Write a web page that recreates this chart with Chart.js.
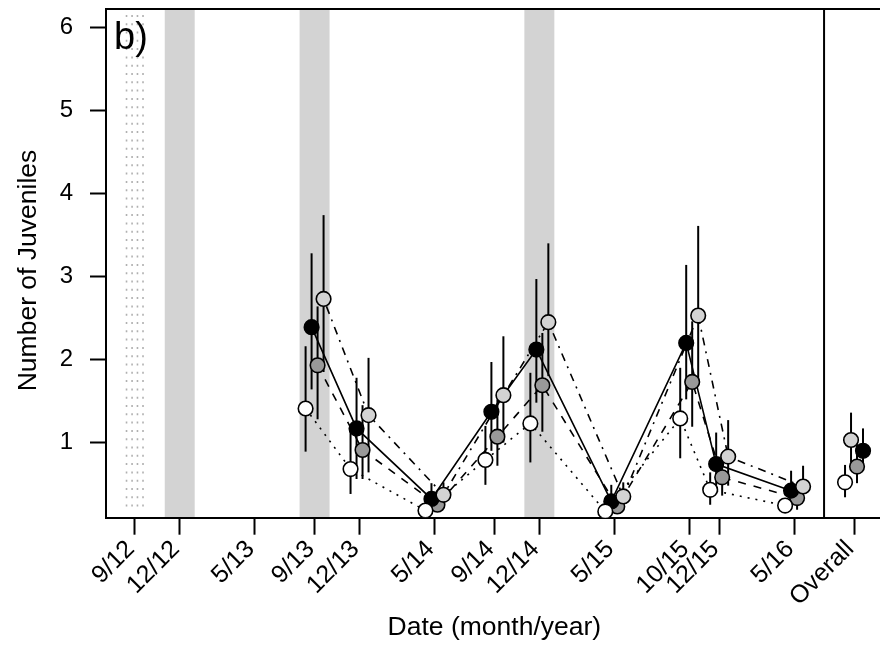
<!DOCTYPE html>
<html>
<head>
<meta charset="utf-8">
<script src="https://cdn.jsdelivr.net/npm/chart.js@4.4.1/dist/chart.umd.min.js"></script>
<style>
  body { margin: 0; background: #fff; overflow: hidden; }
  canvas { display: block; }
</style>
</head>
<body>
<canvas id="juv" width="900" height="646"></canvas>
<script>
// months counted from 9/2012
var dateMonths = [12, 15, 20, 24, 27, 32, 37, 39, 44];
var overallMonth = 48;

var tickMonths = [0, 3, 8, 12, 15, 20, 24, 27, 32, 37, 39, 44, 48];
var tickLabels = ['9/12', '12/12', '5/13', '9/13', '12/13', '5/14', '9/14', '12/14',
                  '5/15', '10/15', '12/15', '5/16', 'Overall'];
var yTicks = [1, 2, 3, 4, 5, 6];

var shadedMonths = [3, 12, 27];
var dividerMonth = 46;

// last value of each array is the overall estimate
var whiteMean = [1.41, 0.68, 0.18, 0.79, 1.23, 0.17, 1.29, 0.43, 0.24, 0.52];
var whiteLo   = [0.89, 0.38, 0.12, 0.49, 0.76, 0.12, 0.81, 0.25, 0.17, 0.34];
var whiteHi   = [2.16, 1.16, 0.27, 1.20, 1.84, 0.24, 1.90, 0.64, 0.33, 0.73];

var blackMean = [2.39, 1.17, 0.32, 1.37, 2.12, 0.29, 2.20, 0.74, 0.42, 0.90];
var blackLo   = [1.64, 0.56, 0.20, 0.90, 1.48, 0.18, 1.52, 0.48, 0.27, 0.68];
var blackHi   = [3.28, 1.78, 0.51, 1.97, 2.97, 0.49, 3.14, 1.12, 0.66, 1.17];

var darkMean  = [1.93, 0.91, 0.25, 1.07, 1.69, 0.23, 1.73, 0.58, 0.33, 0.71];
var darkLo    = [1.28, 0.56, 0.17, 0.72, 1.13, 0.15, 1.19, 0.36, 0.19, 0.51];
var darkHi    = [2.64, 1.45, 0.36, 1.52, 2.32, 0.33, 2.46, 0.88, 0.50, 0.98];

var lightMean = [2.73, 1.33, 0.37, 1.57, 2.45, 0.35, 2.53, 0.83, 0.47, 1.03];
var lightLo   = [1.85, 0.64, 0.26, 1.00, 1.80, 0.24, 1.76, 0.48, 0.32, 0.76];
var lightHi   = [3.74, 2.02, 0.52, 2.28, 3.40, 0.52, 3.61, 1.27, 0.72, 1.36];

var FONT = "'Liberation Sans', Arial, Helvetica, sans-serif";

// off = side shift at the dates, offAll = shift at "Overall", z = point draw order
var series = [
  {mean: whiteMean, lo: whiteLo, hi: whiteHi, fill: '#ffffff', dash: [2, 6], off: -0.6, offAll: -0.6, z: 1},
  {mean: blackMean, lo: blackLo, hi: blackHi, fill: '#000000', dash: [], off: -0.2, offAll: 0.6, z: 3},
  {mean: darkMean, lo: darkLo, hi: darkHi, fill: '#999999', dash: [8, 8], off: 0.2, offAll: 0.2, z: 4},
  {mean: lightMean, lo: lightLo, hi: lightHi, fill: '#d3d3d3', dash: [2, 6, 8, 6], off: 0.6, offAll: -0.2, z: 2}
];

function xOf(s, i) {
  return i < dateMonths.length ? dateMonths[i] + s.off : overallMonth + s.offAll;
}

var datasets = [];
series.forEach(function (s) {
  datasets.push({
    data: dateMonths.map(function (m, i) { return {x: xOf(s, i), y: s.mean[i]}; }),
    showLine: true, pointRadius: 0, borderColor: '#000', borderWidth: 1.6,
    borderDash: s.dash, fill: false, order: 10
  });
});
series.forEach(function (s) {
  datasets.push({
    data: s.mean.map(function (v, i) { return {x: xOf(s, i), y: v}; }),
    showLine: false, pointRadius: 7.3, pointBorderWidth: 1.6,
    pointBackgroundColor: s.fill, pointBorderColor: '#000', order: s.z
  });
});

var decor = {
  id: 'decor',
  beforeDraw: function (chart) {
    var ctx = chart.ctx, a = chart.chartArea, xs = chart.scales.x;
    ctx.save();
    ctx.fillStyle = '#d3d3d3';
    shadedMonths.forEach(function (m) {
      var x0 = xs.getPixelForValue(m - 1), x1 = xs.getPixelForValue(m + 1);
      ctx.fillRect(x0, a.top, x1 - x0, a.bottom - a.top);
    });
    // dotted marks at 9/12
    ctx.strokeStyle = '#b0b0b0';
    ctx.lineWidth = 1.6;
    ctx.setLineDash([2, 6.3]);
    [-0.55, -0.18, 0.18, 0.55].forEach(function (d) {
      var x = xs.getPixelForValue(tickMonths[0] + d);
      ctx.beginPath();
      ctx.moveTo(x, a.top + 6);
      ctx.lineTo(x, a.bottom - 6);
      ctx.stroke();
    });
    ctx.restore();
  },
  beforeDatasetsDraw: function (chart) {
    var ctx = chart.ctx, a = chart.chartArea, xs = chart.scales.x, ys = chart.scales.y;
    ctx.save();
    ctx.strokeStyle = '#000';
    ctx.lineWidth = 2;
    var xd = xs.getPixelForValue(dividerMonth);
    ctx.beginPath();
    ctx.moveTo(xd, a.top);
    ctx.lineTo(xd, a.bottom);
    ctx.stroke();
    series.forEach(function (s) {
      s.mean.forEach(function (m, i) {
        var x = xs.getPixelForValue(xOf(s, i));
        ctx.beginPath();
        ctx.moveTo(x, ys.getPixelForValue(s.lo[i]));
        ctx.lineTo(x, ys.getPixelForValue(s.hi[i]));
        ctx.stroke();
      });
    });
    ctx.restore();
  },
  afterDraw: function (chart) {
    var ctx = chart.ctx, a = chart.chartArea;
    ctx.save();
    ctx.strokeStyle = '#000';
    ctx.lineWidth = 2;
    ctx.beginPath();
    ctx.moveTo(a.left - 1, a.top);
    ctx.lineTo(a.right + 1, a.top);
    ctx.lineTo(a.right, a.bottom);
    ctx.stroke();
    ctx.fillStyle = '#000';
    ctx.font = '38px ' + FONT;
    ctx.textBaseline = 'alphabetic';
    ctx.fillText('b)', a.left + 8, 49);
    // y axis title, centred a little below the middle of the plot like the original
    ctx.font = '26.5px ' + FONT;
    ctx.textAlign = 'center';
    ctx.textBaseline = 'alphabetic';
    ctx.translate(36, 270.5);
    ctx.rotate(-Math.PI / 2);
    ctx.fillText('Number of Juveniles', 0, 0);
    ctx.restore();
  }
};

new Chart(document.getElementById('juv'), {
  type: 'scatter',
  data: {datasets: datasets},
  plugins: [decor],
  options: {
    responsive: false,
    animation: false,
    devicePixelRatio: 1,
    layout: {padding: {top: 7.3, right: 17.2, left: 0, bottom: 0}},
    plugins: {legend: {display: false}, tooltip: {enabled: false}},
    scales: {
      x: {
        type: 'linear', min: -1.92, max: 49.92,
        afterBuildTicks: function (axis) { axis.ticks = tickMonths.map(function (v) { return {value: v}; }); },
        afterFit: function (axis) { axis.height = 128.3; axis.paddingLeft = 0; axis.paddingRight = 0; },
        grid: {drawOnChartArea: false, drawTicks: true, tickLength: 17, tickWidth: 2, tickColor: '#000'},
        border: {display: true, color: '#000', width: 2},
        ticks: {
          autoSkip: false, minRotation: 45, maxRotation: 45, padding: 0, labelOffset: -4, color: '#000',
          font: {size: 25, family: FONT},
          callback: function (v, i) { return tickLabels[i]; }
        },
        title: {display: true, text: 'Date (month/year)', color: '#000',
                font: {size: 26.5, family: FONT}, padding: {top: 0, bottom: 2.4}}
      },
      y: {
        type: 'linear', min: 0.094, max: 6.225,
        afterBuildTicks: function (axis) { axis.ticks = yTicks.map(function (v) { return {value: v}; }); },
        afterFit: function (axis) { axis.width = 106; axis.paddingTop = 0; axis.paddingBottom = 0; },
        grid: {drawOnChartArea: false, drawTicks: true, tickLength: 16, tickWidth: 2, tickColor: '#000'},
        border: {display: true, color: '#000', width: 2},
        ticks: {padding: 17, color: '#000', font: {size: 24, family: FONT}},
        title: {display: false}
      }
    }
  }
});
</script>
</body>
</html>
